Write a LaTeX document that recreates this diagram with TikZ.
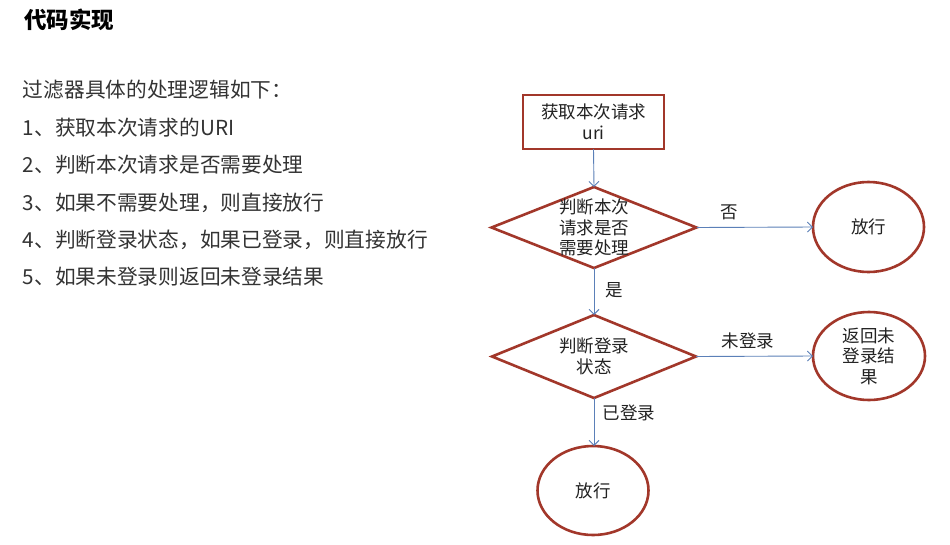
\documentclass[tikz,border=0pt]{standalone}
\usepackage{fontspec}
\setmainfont{Noto Sans CJK SC}
\usetikzlibrary{shapes.geometric,arrows.meta}
\definecolor{boxred}{HTML}{A2372A}
\definecolor{arrblue}{HTML}{5B80B8}
\definecolor{ftxt}{HTML}{222222}
\definecolor{ltxt}{HTML}{333333}
\begin{document}
\begin{tikzpicture}[x=1pt,y=-1pt,
  every node/.style={inner sep=0pt,outer sep=0pt},
  listtext/.style={anchor=west,text=ltxt,font=\fontsize{20.7}{24}\selectfont},
  ftext/.style={text=ftxt,align=center,font=\fontsize{17.5}{20.5}\selectfont},
  rectbox/.style={draw=boxred,line width=2.8pt,rectangle},
  diabox/.style={draw=boxred,line width=2.6pt,diamond},
  ellbox/.style={draw=boxred,line width=2.6pt,ellipse},
  arr/.style={draw=arrblue,line width=0.9pt,-{Straight Barb[length=5pt,width=10pt]}}
]
\useasboundingbox[fill=white] (0,0) rectangle (950,544);

% left column
\node[anchor=west,text=black,font=\fontsize{22.5}{24}\bfseries\selectfont] (title) at (24,20) {代码实现};
\node[listtext] (l0) at (23,90) {过滤器具体的处理逻辑如下：};
\node[listtext] (l1) at (23,128) {1、获取本次请求的URI};
\node[listtext] (l2) at (23,165) {2、判断本次请求是否需要处理};
\node[listtext] (l3) at (23,203) {3、如果不需要处理，则直接放行};
\node[listtext] (l4) at (23,240) {4、判断登录状态，如果已登录，则直接放行};
\node[listtext] (l5) at (23,277) {5、如果未登录则返回未登录结果};

% flowchart
\node[rectbox,minimum width=141pt,minimum height=54pt] (get) at (593.5,122) {};
\node[ftext] (gett) at (get) {获取本次请求\\uri};

\node[diabox,minimum width=205pt,minimum height=81pt] (d1) at (594,227.5) {};
\node[ftext] (d1t) at (d1) {判断本次\\请求是否\\需要处理};

\node[ellbox,minimum width=111pt,minimum height=90pt] (e1) at (868.5,227) {};
\node[ftext] (e1t) at (e1) {放行};

\node[diabox,minimum width=204pt,minimum height=83pt] (d2) at (594,356.5) {};
\node[ftext] (d2t) at (d2) {判断登录\\状态};

\node[ellbox,minimum width=112pt,minimum height=88pt] (e2) at (869,356) {};
\node[ftext] (e2t) at (e2) {返回未\\登录结\\果};

\node[ellbox,minimum width=111pt,minimum height=89pt] (e3) at (593,490.5) {};
\node[ftext] (e3t) at (e3) {放行};

\draw[arr] (get.south) -- (d1.north);
\draw[arr] (d1.east) -- (e1.west);
\draw[arr] (d1.south) -- (d2.north);
\draw[arr] (d2.east) -- (e2.west);
\draw[arr] (d2.south) -- (d2.south |- e3.north);

\node[ftext] (lno) at (729,212) {否};
\node[ftext] (lyes) at (614,290) {是};
\node[ftext] (lnot) at (748,341) {未登录};
\node[ftext] (llog) at (629,413) {已登录};
\end{tikzpicture}
\end{document}
